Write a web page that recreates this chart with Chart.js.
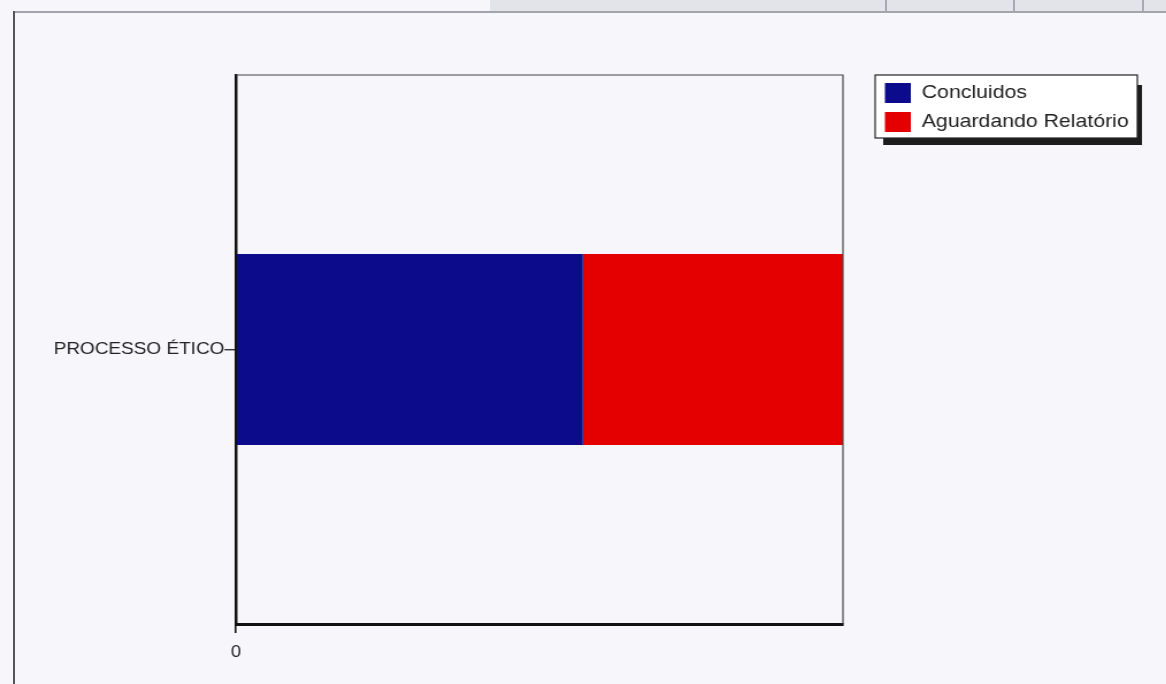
<!DOCTYPE html>
<html>
<head>
<meta charset="utf-8">
<script src="https://cdn.jsdelivr.net/npm/chart.js@4.4.1/dist/chart.umd.min.js"></script>
<style>
  html, body { margin: 0; padding: 0; width: 1166px; height: 684px; overflow: hidden; background: #f7f7fb; }
  #strip { position: absolute; left: 490px; top: 0; width: 676px; height: 11px; background: #e3e3ea; }
  .sep { position: absolute; top: 0; width: 2px; height: 12px; background: #a9a9b2; }
  #frameTop { position: absolute; left: 13px; top: 11px; width: 1153px; height: 2px; background: #a4a4ac; }
  #frameLeft { position: absolute; left: 13px; top: 11px; width: 2px; height: 673px; background: #555; }
  #wrap { position: absolute; left: 0; top: 0; width: 1014px; height: 684px; transform: scaleX(1.15); transform-origin: 0 0; }
</style>
</head>
<body>
<div id="strip"></div>
<div class="sep" style="left:885px"></div>
<div class="sep" style="left:1013px"></div>
<div class="sep" style="left:1142px"></div>
<div id="frameTop"></div>
<div id="frameLeft"></div>
<div id="wrap"><canvas id="c"></canvas></div>
<script>
// ---- data ----
const categories = ['PROCESSO ÉTICO'];
const seriesNames = ['Concluidos', 'Aguardando Relatório'];
const concluidos = [4];
const aguardando = [3];
const xTickValues = [0];
const xMax = 7;
const seriesColors = ['#0b0b8c', '#e50000'];

const FONT = "'Liberation Sans', Arial, sans-serif";

const frameAndLegend = {
  id: 'frameAndLegend',
  afterDraw(chart) {
    const ctx = chart.ctx;
    const a = chart.chartArea;
    ctx.save();
    // thin top and right frame of the plot
    ctx.strokeStyle = '#444';
    ctx.lineWidth = 1.2;
    ctx.beginPath();
    ctx.moveTo(a.left, a.top);
    ctx.lineTo(a.right, a.top);
    ctx.lineTo(a.right, a.bottom);
    ctx.stroke();

    // legend box with shadow
    const lx = 761, ly = 75, lw = 228, lh = 63;
    ctx.fillStyle = '#1c1c1c';
    ctx.fillRect(lx + 7, ly + 10, lw - 3, lh - 3);
    ctx.fillStyle = '#ffffff';
    ctx.fillRect(lx, ly, lw, lh);
    ctx.strokeStyle = '#222';
    ctx.lineWidth = 1.2;
    ctx.strokeRect(lx, ly, lw, lh);

    const rows = [83, 112];
    chart.data.datasets.forEach((ds, i) => {
      ctx.fillStyle = ds.backgroundColor;
      ctx.fillRect(lx + 8.5, rows[i], 22.5, 20);
      ctx.fillStyle = '#222';
      ctx.font = '18.5px ' + FONT;
      ctx.textBaseline = 'middle';
      ctx.textAlign = 'left';
      ctx.fillText(ds.label, lx + 40.5, rows[i] + 10);
    });
    ctx.restore();
  }
};

new Chart(document.getElementById('c'), {
  type: 'bar',
  data: {
    labels: categories,
    datasets: [
      { label: seriesNames[0], data: concluidos, backgroundColor: seriesColors[0], borderWidth: 0 },
      { label: seriesNames[1], data: aguardando, backgroundColor: seriesColors[1], borderWidth: 0 }
    ]
  },
  options: {
    indexAxis: 'y',
    responsive: true,
    maintainAspectRatio: false,
    animation: false,
    layout: { padding: { left: 0, top: 75, right: 281, bottom: 0 } },
    datasets: { bar: { barPercentage: 0.348, categoryPercentage: 1 } },
    plugins: { legend: { display: false }, tooltip: { enabled: false } },
    scales: {
      x: {
        stacked: true,
        min: 0,
        max: xMax,
        afterBuildTicks(scale) { scale.ticks = xTickValues.map(v => ({ value: v })); },
        afterFit(scale) { scale.height = 60; },
        grid: { display: true, drawOnChartArea: false, drawTicks: true, tickLength: 9, color: '#111', lineWidth: 1.6 },
        border: { display: true, color: '#111', width: 3 },
        ticks: { color: '#222', font: { family: FONT, size: 16 }, padding: 10, maxRotation: 0 }
      },
      y: {
        stacked: true,
        afterFit(scale) { scale.width = 205.2; },
        grid: { display: true, offset: false, drawOnChartArea: false, drawTicks: true, tickLength: 10, color: '#333', lineWidth: 1.4 },
        border: { display: true, color: '#111', width: 2.5 },
        ticks: { color: '#222', font: { family: FONT, size: 16.5 }, padding: 0 }
      }
    }
  },
  plugins: [frameAndLegend]
});
</script>
</body>
</html>
